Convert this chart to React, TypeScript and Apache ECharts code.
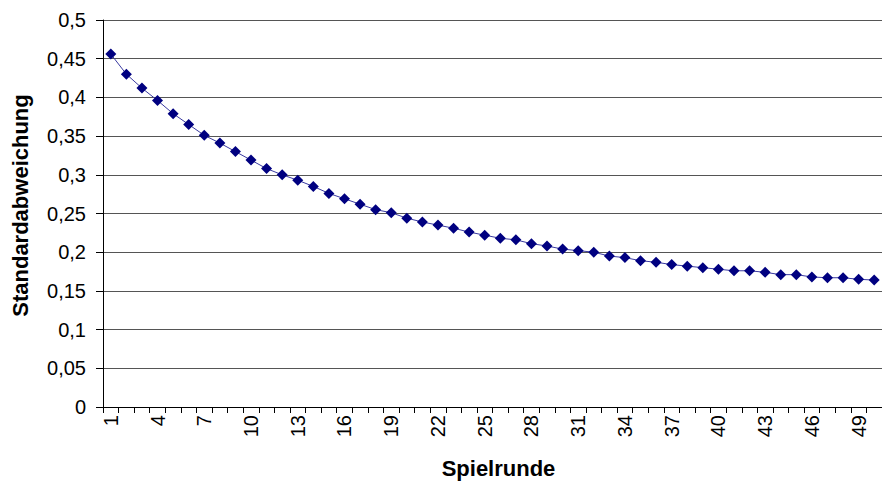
import React, { useEffect, useRef } from "react";
import * as echarts from "echarts";

const rounds: string[] = Array.from({ length: 50 }, (_, i) => String(i + 1));
const stdDev: number[] = [
  0.456, 0.430, 0.412, 0.396, 0.379, 0.365, 0.351, 0.341, 0.330, 0.319,
  0.308, 0.300, 0.293, 0.285, 0.276, 0.269, 0.262, 0.255, 0.251, 0.244,
  0.239, 0.235, 0.231, 0.226, 0.222, 0.218, 0.216, 0.211, 0.208, 0.204,
  0.202, 0.200, 0.195, 0.193, 0.189, 0.187, 0.184, 0.182, 0.180, 0.178,
  0.176, 0.176, 0.174, 0.171, 0.171, 0.168, 0.167, 0.167, 0.165, 0.164,
];
const xTitle = "Spielrunde";
const yTitle = "Standardabweichung";

export default function App() {
  const ref = useRef<HTMLDivElement>(null);
  useEffect(() => {
    if (!ref.current) return;
    const chart = echarts.init(ref.current, undefined, { renderer: "svg" });
    const font = "'Liberation Sans', Arial, sans-serif";
    chart.setOption({
      animation: false,
      backgroundColor: "#ffffff",
      grid: { left: 103, right: -13, top: 20, bottom: 75 },
      xAxis: {
        type: "category",
        data: rounds,
        boundaryGap: true,
        name: xTitle,
        nameLocation: "middle",
        nameGap: 50,
        nameTextStyle: {
          fontFamily: font,
          fontSize: 22,
          fontWeight: "bold",
          color: "#000",
          padding: [0, 0, 0, 12],
        },
        axisLine: { lineStyle: { color: "#000", width: 1 } },
        axisTick: { show: true, length: 6, alignWithLabel: false, interval: 0, lineStyle: { color: "#000" } },
        axisLabel: {
          interval: 2,
          rotate: 90,
          margin: 8,
          fontFamily: font,
          fontSize: 20,
          color: "#000",
        },
        splitLine: { show: false },
      },
      yAxis: {
        type: "value",
        min: 0,
        max: 0.5,
        interval: 0.05,
        name: yTitle,
        nameLocation: "middle",
        nameGap: 72,
        nameTextStyle: {
          fontFamily: font,
          fontSize: 22,
          fontWeight: "bold",
          color: "#000",
          padding: [0, 0, 0, 16],
        },
        axisLine: { show: true, lineStyle: { color: "#000", width: 1 } },
        axisTick: { show: true, length: 7, lineStyle: { color: "#000" } },
        axisLabel: {
          margin: 17,
          fontFamily: font,
          fontSize: 20,
          color: "#000",
          formatter: (v: number) => String(+v.toFixed(2)).replace(".", ","),
        },
        splitLine: { show: true, lineStyle: { color: "#555", width: 1 } },
      },
      series: [
        {
          type: "line",
          data: stdDev,
          showAllSymbol: true,
          symbol: "diamond",
          symbolSize: 11,
          itemStyle: { color: "#000080" },
          lineStyle: { color: "#3a3aa0", width: 1 },
        },
      ],
    });
    return () => chart.dispose();
  }, []);
  return (
    <div
      ref={ref}
      style={{ position: "fixed", left: 0, top: 0, width: 882, height: 484, background: "#fff" }}
    />
  );
}
